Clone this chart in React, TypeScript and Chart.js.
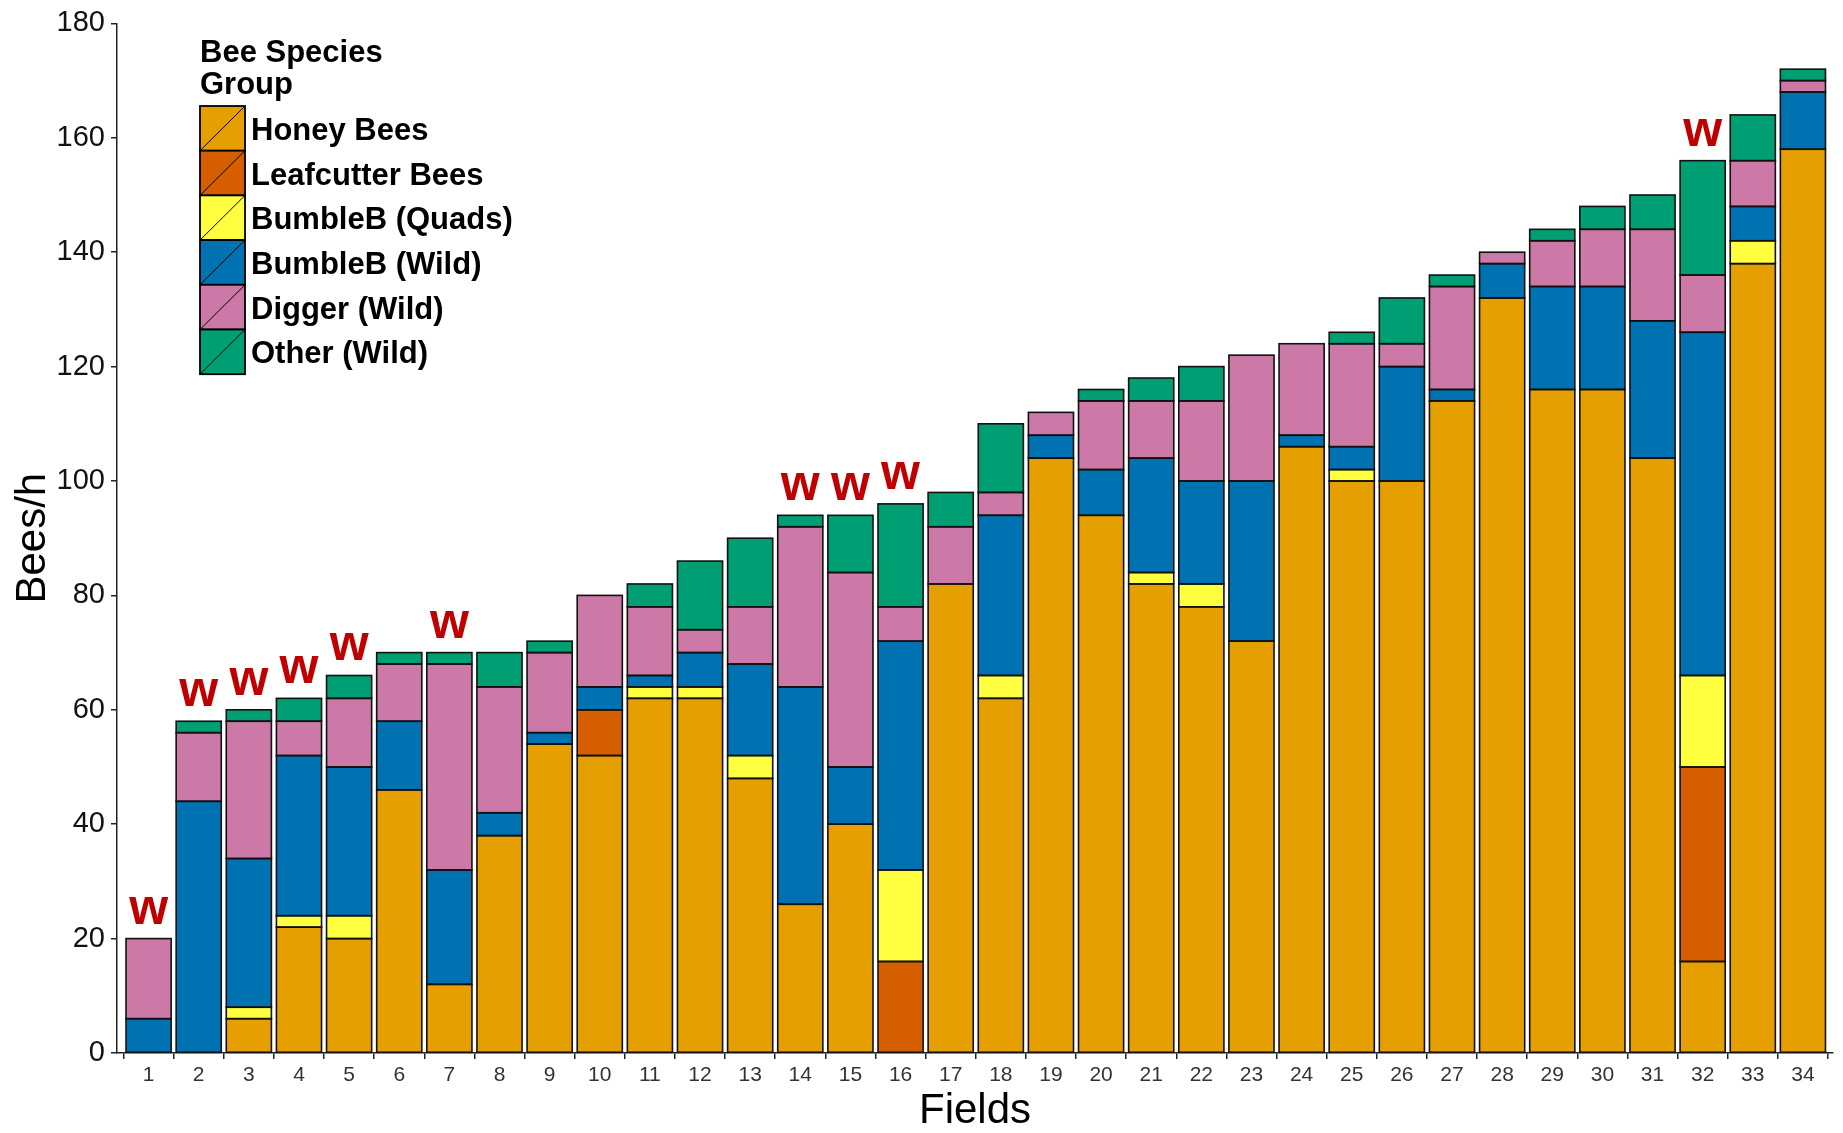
import React, { useEffect, useRef } from "react";
import { Chart, registerables } from "chart.js";

Chart.register(...registerables);

const fields = [1, 2, 3, 4, 5, 6, 7, 8, 9, 10, 11, 12, 13, 14, 15, 16, 17, 18, 19, 20, 21, 22, 23, 24, 25, 26, 27, 28, 29, 30, 31, 32, 33, 34];
const honeyBees = [0, 0, 6, 22, 20, 46, 12, 38, 54, 52, 62, 62, 48, 26, 40, 0, 82, 62, 104, 94, 82, 78, 72, 106, 100, 100, 114, 132, 116, 116, 104, 16, 138, 158];
const leafcutterBees = [0, 0, 0, 0, 0, 0, 0, 0, 0, 8, 0, 0, 0, 0, 0, 16, 0, 0, 0, 0, 0, 0, 0, 0, 0, 0, 0, 0, 0, 0, 0, 34, 0, 0];
const bumbleQuads = [0, 0, 2, 2, 4, 0, 0, 0, 0, 0, 2, 2, 4, 0, 0, 16, 0, 4, 0, 0, 2, 4, 0, 0, 2, 0, 0, 0, 0, 0, 0, 16, 4, 0];
const bumbleWild = [6, 44, 26, 28, 26, 12, 20, 4, 2, 4, 2, 6, 16, 38, 10, 40, 0, 28, 4, 8, 20, 18, 28, 2, 4, 20, 2, 6, 18, 18, 24, 60, 6, 10];
const diggerWild = [14, 12, 24, 6, 12, 10, 36, 22, 14, 16, 12, 4, 10, 28, 34, 6, 10, 4, 4, 12, 10, 14, 22, 16, 18, 4, 18, 2, 8, 10, 16, 10, 8, 2];
const otherWild = [0, 2, 2, 4, 4, 2, 2, 6, 2, 0, 4, 12, 12, 2, 10, 18, 6, 12, 0, 2, 4, 6, 0, 0, 2, 8, 2, 0, 2, 4, 6, 20, 8, 2];

const seriesNames = ["Honey Bees", "Leafcutter Bees", "BumbleB (Quads)", "BumbleB (Wild)", "Digger (Wild)", "Other (Wild)"];
const seriesColors = ["#E69F00", "#D55E00", "#FFFF40", "#0072B2", "#CC79A7", "#009E73"];
const seriesValues = [honeyBees, leafcutterBees, bumbleQuads, bumbleWild, diggerWild, otherWild];

const wildFields = [1, 2, 3, 4, 5, 7, 14, 15, 16, 32];
const wildLabel = "w";
const legendTitle = ["Bee Species", "Group"];
const yTicks = [0, 20, 40, 60, 80, 100, 120, 140, 160, 180];

const FONT = "'Liberation Sans', Arial, Helvetica, sans-serif";

// Outline each stacked segment (centered stroke, like ggplot's colour = "black")
const outlinePlugin = {
  id: "outline",
  afterDatasetsDraw(chart: any) {
    const ctx = chart.ctx;
    ctx.save();
    ctx.strokeStyle = "#111";
    ctx.lineWidth = 1.6;
    chart.data.datasets.forEach((_ds: any, di: number) => {
      const meta = chart.getDatasetMeta(di);
      if (!meta.visible) return;
      meta.data.forEach((el: any, i: number) => {
        const raw = chart.data.datasets[di].data[i];
        if (raw === null || raw === undefined) return;
        const { x, y, base, width } = el.getProps(["x", "y", "base", "width"], true);
        const top = Math.min(y, base);
        const h = Math.abs(base - y);
        ctx.strokeRect(x - width / 2, top, width, h);
      });
    });
    ctx.restore();
  },
};

const overlayPlugin = {
  id: "overlay",
  afterDraw(chart: any) {
    const ctx = chart.ctx;
    const xs = chart.scales.x;
    const ys = chart.scales.y;
    ctx.save();
    // "w" labels above selected bars
    ctx.fillStyle = "#C00000";
    ctx.font = `bold 50px ${FONT}`;
    ctx.textAlign = "center";
    ctx.textBaseline = "alphabetic";
    wildFields.forEach((f) => {
      const i = fields.indexOf(f);
      const total = seriesValues.reduce((s, arr) => s + arr[i], 0);
      const x = xs.getPixelForValue(f);
      const y = ys.getPixelForValue(total) - 15;
      ctx.fillText(wildLabel, x, y);
    });

    // legend
    const lx = 200;
    ctx.fillStyle = "#000";
    ctx.textAlign = "left";
    ctx.font = `bold 31px ${FONT}`;
    ctx.fillText(legendTitle[0], lx, 62);
    ctx.fillText(legendTitle[1], lx, 94);
    const boxW = 45;
    const boxH = 44.7;
    const top = 106;
    ctx.font = `bold 31px ${FONT}`;
    ctx.textBaseline = "middle";
    seriesNames.forEach((name, k) => {
      const by = top + k * boxH;
      ctx.fillStyle = seriesColors[k];
      ctx.fillRect(lx, by, boxW, boxH);
      ctx.strokeStyle = "#000";
      ctx.lineWidth = 1.8;
      ctx.strokeRect(lx, by, boxW, boxH);
      ctx.beginPath();
      ctx.lineWidth = 1;
      ctx.moveTo(lx, by + boxH);
      ctx.lineTo(lx + boxW, by);
      ctx.stroke();
      ctx.fillStyle = "#000";
      ctx.fillText(name, lx + 51, by + boxH / 2 + 3);
    });
    ctx.restore();
  },
};

export default function App() {
  const canvasRef = useRef<HTMLCanvasElement | null>(null);

  useEffect(() => {
    document.body.style.margin = "0";
    const canvas = canvasRef.current;
    if (!canvas) return;
    Chart.defaults.font.family = FONT;

    const gridOpts = {
      display: true,
      drawOnChartArea: false,
      drawTicks: true,
      tickLength: 6,
      color: "#222",
      lineWidth: 1.5,
    };
    const borderOpts = { display: true, color: "#222", width: 1.5 };

    const chart = new Chart(canvas, {
      type: "bar",
      data: {
        labels: fields,
        datasets: seriesNames.map((name, k) => ({
          label: name,
          data: seriesValues[k].map((v) => (v === 0 ? null : v)),
          backgroundColor: seriesColors[k],
          borderWidth: 0,
          inflateAmount: 0,
          barPercentage: 0.9,
          categoryPercentage: 1,
        })),
      },
      options: {
        animation: false,
        responsive: true,
        maintainAspectRatio: false,
        layout: { padding: { top: 20, right: 10, left: 0, bottom: 0 } },
        plugins: { legend: { display: false }, tooltip: { enabled: false } },
        scales: {
          x: {
            type: "linear",
            stacked: true,
            offset: false,
            min: 0.37,
            max: 34.6,
            afterBuildTicks: (s: any) => {
              s.ticks = fields.map((v) => ({ value: v }));
            },
            afterFit: (s: any) => {
              s.height = 80;
            },
            grid: gridOpts,
            border: borderOpts,
            ticks: {
              font: { size: 21 },
              color: "#333",
              padding: 4,
              autoSkip: false,
              maxRotation: 0,
              callback: (v: any) => String(v),
            },
            title: {
              display: true,
              text: "Fields",
              font: { size: 42, lineHeight: 1.05 },
              color: "#000",
              padding: { top: 0, bottom: 0 },
            },
          },
          y: {
            type: "linear",
            stacked: true,
            min: 0,
            max: 180,
            afterBuildTicks: (s: any) => {
              s.ticks = yTicks.map((v) => ({ value: v }));
            },
            afterFit: (s: any) => {
              s.width = 117;
            },
            grid: gridOpts,
            border: borderOpts,
            ticks: {
              font: { size: 29 },
              color: "#111",
              padding: 6,
              callback: (v: any) => String(v),
            },
            title: {
              display: true,
              text: "Bees/h",
              font: { size: 42 },
              color: "#000",
              padding: { top: 8, bottom: 0 },
            },
          },
        },
      } as any,
      plugins: [outlinePlugin, overlayPlugin],
    });

    return () => chart.destroy();
  }, []);

  return (
    <div style={{ position: "absolute", left: 0, top: 0, width: 1843, height: 1133, background: "#fff" }}>
      <canvas ref={canvasRef} />
    </div>
  );
}
